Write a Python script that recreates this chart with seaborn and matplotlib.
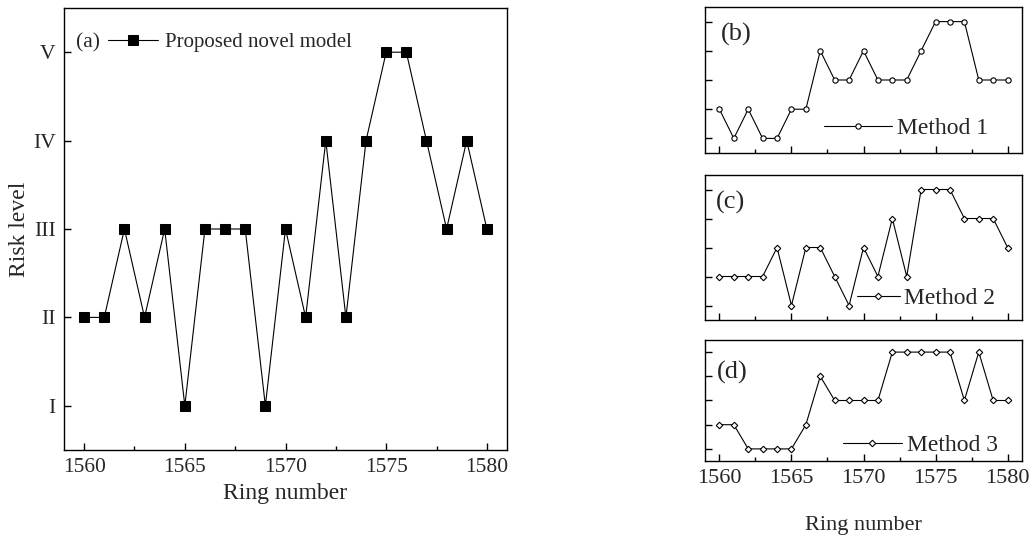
import matplotlib
matplotlib.use("Agg")
import matplotlib.pyplot as plt
import seaborn as sns
import numpy as np
from matplotlib.ticker import MultipleLocator

sns.set_style("ticks")
plt.rcParams['font.family'] = ['Liberation Serif', 'DejaVu Serif']
plt.rcParams['mathtext.fontset'] = 'stix'

rings = list(range(1560, 1581))
proposed = [2, 2, 3, 2, 3, 1, 3, 3, 3, 1, 3, 2, 4, 2, 4, 5, 5, 4, 3, 4, 3]
method1 = [2, 1, 2, 1, 1, 2, 2, 4, 3, 3, 4, 3, 3, 3, 4, 5, 5, 5, 3, 3, 3]
method2 = [2, 2, 2, 2, 3, 1, 3, 3, 2, 1, 3, 2, 4, 2, 5, 5, 5, 4, 4, 4, 3]
method3 = [2, 2, 1, 1, 1, 1, 2, 4, 3, 3, 3, 3, 5, 5, 5, 5, 5, 3, 5, 3, 3]
level_labels = ["I", "II", "III", "IV", "V"]
xticks = [1560, 1565, 1570, 1575, 1580]

W, H = 1030, 536
fig = plt.figure(figsize=(W / 100, H / 100), dpi=100)

def px_axes(l, t, r, b):
    return fig.add_axes([l / W, 1 - b / H, (r - l) / W, (b - t) / H])

def style(ax, labelsize):
    ax.set_xlim(1559, 1581)
    ax.set_ylim(0.5, 5.5)
    ax.set_xticks(xticks)
    ax.xaxis.set_minor_locator(MultipleLocator(2.5))
    ax.set_yticks([1, 2, 3, 4, 5])
    ax.tick_params(axis='both', which='both', direction='in', color='black')
    ax.tick_params(axis='both', which='major', length=5, width=1,
                   labelsize=labelsize, pad=6)
    ax.tick_params(axis='x', which='minor', length=3, width=1)
    for s in ax.spines.values():
        s.set_visible(True)
        s.set_linewidth(1.0)
        s.set_color('black')
    ax.set_xlabel("")
    ax.set_ylabel("")

# Main panel (a)
ax = px_axes(64, 8, 507, 450)
sns.lineplot(x=rings, y=proposed, ax=ax, color='black', linewidth=0.8,
             marker='s', markersize=7, markeredgecolor='black',
             markerfacecolor='black', label='Proposed novel model')
style(ax, 15.5)
ax.set_yticklabels(level_labels)
ax.set_xlabel("Ring number", fontsize=17, labelpad=4)
ax.set_ylabel("Risk level", fontsize=17, labelpad=2)
ax.text(0.054, 0.922, "(a)", transform=ax.transAxes, fontsize=15.5,
        ha='center', va='center')
ax.legend(loc='center left', bbox_to_anchor=(0.10, 0.922), frameon=False,
          fontsize=15, handlelength=2.4, handletextpad=0.3, borderpad=0,
          borderaxespad=0)

small = [
    ("(b)", method1, "Method 1", 'o', (7, 153), (0.375, 0.17), (0.10, 0.81), 2.9),
    ("(c)", method2, "Method 2", 'D', (175, 320), (0.48, 0.15), (0.08, 0.81), 1.8),
    ("(d)", method3, "Method 3", 'D', (340, 461), (0.435, 0.13), (0.085, 0.73), 2.5),
]
for i, (tag, vals, name, mk, (t, b), lpos, tpos, hl) in enumerate(small):
    a = px_axes(705, t, 1022, b)
    sns.lineplot(x=rings, y=vals, ax=a, color='black', linewidth=0.8,
                 marker=mk, markersize=3.8 if mk == 'o' else 3.3,
                 markeredgecolor='black', markerfacecolor='white',
                 markeredgewidth=0.8, label=name)
    style(a, 16)
    a.set_yticklabels([])
    if i < 2:
        a.set_xticklabels([])
    else:
        a.set_xlabel("Ring number", fontsize=16, labelpad=20)
    a.text(tpos[0], tpos[1], tag, transform=a.transAxes, fontsize=19,
           ha='center', va='center')
    a.legend(loc='center left', bbox_to_anchor=lpos, frameon=False,
             fontsize=17, handlelength=hl, handletextpad=0.2, borderpad=0,
             borderaxespad=0)

fig.savefig("out.png", dpi=100)
